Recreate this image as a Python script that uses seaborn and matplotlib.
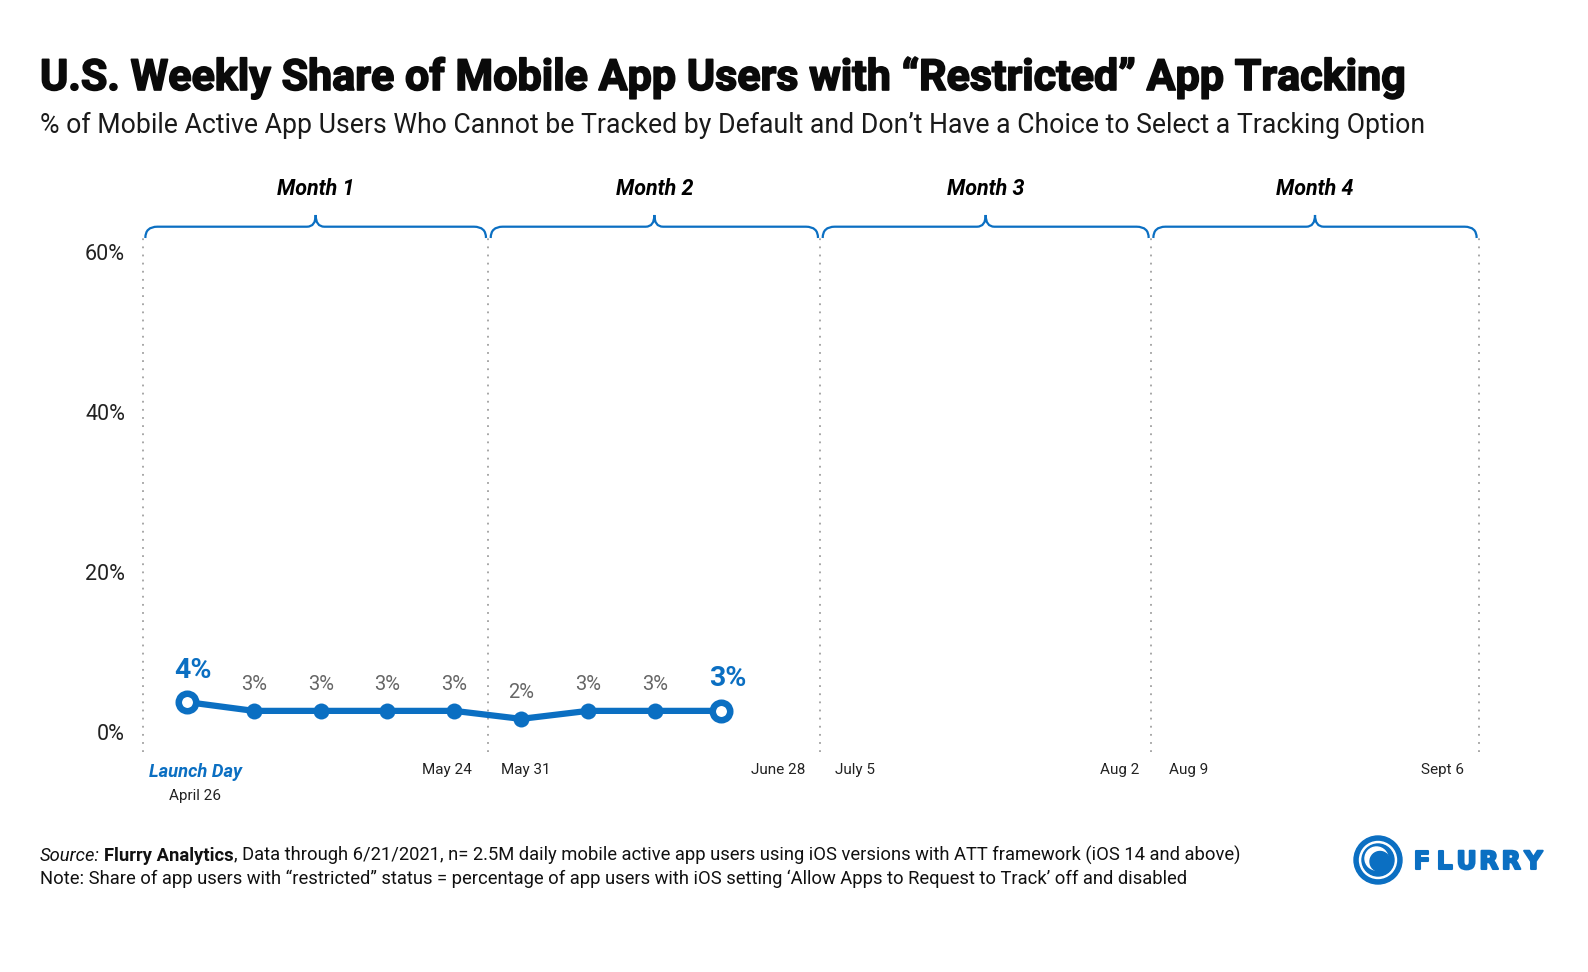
import numpy as np
import pandas as pd
import matplotlib
matplotlib.use("Agg")
import matplotlib.pyplot as plt
import matplotlib.transforms as mtransforms
import matplotlib.patheffects as pe
from matplotlib.path import Path
from matplotlib.patches import PathPatch, Circle
import seaborn as sb

# weekly share of "restricted" users, week 0 = launch day (April 26)
weeks = [0, 1, 2, 3, 4, 5, 6, 7, 8]
share = [3.7, 2.6, 2.6, 2.6, 2.6, 1.6, 2.6, 2.6, 2.6]
share_labels = ["4%", "3%", "3%", "3%", "3%", "2%", "3%", "3%", "3%"]

months = ["Month 1", "Month 2", "Month 3", "Month 4"]
month_edges = [-0.66, 4.51, 9.48, 14.43, 19.34]

# end-of-month / start-of-month dates, alternating
date_weeks = [4, 5, 9, 10, 14, 15, 19]
date_labels = ["May 24", "May 31", "June 28", "July 5", "Aug 2", "Aug 9", "Sept 6"]

y_ticks = [0, 20, 40, 60]
y_labels = ["0%", "20%", "40%", "60%"]

title = "U.S. Weekly Share of Mobile App Users with \u201cRestricted\u201d App Tracking"
subtitle = ("% of Mobile Active App Users Who Cannot be Tracked by Default and "
            "Don\u2019t Have a Choice to Select a Tracking Option")
source_parts = [
    ("Source:", "italic", "normal", 4),
    ("Flurry Analytics", "normal", "bold", 0),
    (", Data through 6/21/2021, n= 2.5M daily mobile active app users using iOS "
     "versions with ATT framework (iOS 14 and above)", "normal", "normal", 0),
]
note = ("Note: Share of app users with \u201crestricted\u201d status = percentage of app "
        "users with iOS setting \u2018Allow Apps to Request to Track\u2019 off and disabled")

BLUE = "#0b6fc2"
GREY = "#666666"
INK = "#111111"
W, H = 1588, 972

sb.set_theme(style="white")
plt.rcParams["font.family"] = ["Roboto", "DejaVu Sans"]


def fx(px):
    return px / W


def fy(py):
    return 1 - py / H


fig = plt.figure(figsize=(W / 100, H / 100), dpi=100)
fig.patch.set_facecolor("white")

ax_top, ax_bottom = 238, 752
ax_left, ax_right = 143, 1479
ax_h = ax_bottom - ax_top
ax = fig.add_axes([fx(ax_left), fy(ax_bottom), (ax_right - ax_left) / W, ax_h / H])

df = pd.DataFrame({"week": weeks, "share": share})
sb.lineplot(data=df, x="week", y="share", ax=ax, color=BLUE, lw=4.5,
            marker="o", markersize=11.5, markeredgewidth=0, zorder=3)
ends = df.iloc[[0, -1]]
ax.plot(ends["week"], ends["share"], "o", ms=12.6, mfc="white", mec=BLUE,
        mew=4.7, zorder=4)

for i, (w, v, lab) in enumerate(zip(weeks, share, share_labels)):
    if i in (0, len(weeks) - 1):
        ax.annotate(lab, (w, v), xytext=(6, 32), textcoords="offset pixels",
                    ha="center", va="center", color=BLUE, fontsize=20.5,
                    fontweight="bold")
    else:
        ax.annotate(lab, (w, v), xytext=(0, 26), textcoords="offset pixels",
                    ha="center", va="center", color=GREY, fontsize=14.5)

ax.set_xlim(month_edges[0], month_edges[-1])
ax.set_ylim(-2.54, 61.71)
for e in month_edges:
    ax.axvline(e, color="#a0a0a0", lw=1.3, ls=(0, (1, 3.5)), clip_on=False, zorder=1)
sb.despine(ax=ax, left=True, bottom=True, top=True, right=True)
ax.grid(False)
ax.set_xlabel("")
ax.set_ylabel("")

ax.set_yticks(y_ticks, y_labels)
ax.tick_params(axis="y", length=0, pad=13, labelsize=15.5, labelcolor="#222222")
ax.set_xticks(date_weeks, date_labels)
ax.tick_params(axis="x", length=0, pad=8, labelsize=11, labelcolor="#222222")
for i, lab in enumerate(ax.get_xticklabels()):
    if i % 2 == 0:   # last week of a month: sits left of the boundary
        lab.set_ha("right")
        dx = 17.5 if i < len(date_labels) - 1 else 8
    else:            # first week of a month: sits right of the boundary
        lab.set_ha("left")
        dx = -20
    lab.set_transform(lab.get_transform()
                      + mtransforms.ScaledTranslation(dx / 100, 0, fig.dpi_scale_trans))

# month braces above the plot
trans = mtransforms.blended_transform_factory(ax.transData, ax.transAxes)
y_end = 1.0
y_h = 1 + 11.3 / ax_h
y_tip = 1 + 23 / ax_h
r, t, gap = 0.18, 0.13, 0.035
for i, name in enumerate(months):
    x0 = month_edges[i] + gap
    x1 = month_edges[i + 1] - gap
    xm = (x0 + x1) / 2
    verts = [(x0, y_end), (x0, y_h), (x0 + r, y_h),
             (xm - t, y_h),
             (xm, y_h), (xm, y_tip),
             (xm, y_h), (xm + t, y_h),
             (x1 - r, y_h),
             (x1, y_h), (x1, y_end)]
    codes = [Path.MOVETO, Path.CURVE3, Path.CURVE3,
             Path.LINETO,
             Path.CURVE3, Path.CURVE3,
             Path.CURVE3, Path.CURVE3,
             Path.LINETO,
             Path.CURVE3, Path.CURVE3]
    ax.add_patch(PathPatch(Path(verts, codes), transform=trans, fill=False,
                           ec=BLUE, lw=1.6, clip_on=False))
    ax.text(xm, 1 + (ax_top - 194.5) / ax_h, name, transform=trans, ha="center",
            va="baseline", fontsize=15.5, fontweight="bold", fontstyle="italic",
            color="black")

ax.annotate("Launch Day", xy=(weeks[0], 0), xycoords=trans, xytext=(8, -20),
            textcoords="offset pixels", ha="center", va="center", color=BLUE,
            fontsize=13.2, fontweight="bold", fontstyle="italic")
ax.annotate("April 26", xy=(weeks[0], 0), xycoords=trans, xytext=(8, -44),
            textcoords="offset pixels", ha="center", va="center",
            color="#222222", fontsize=11)

# titles
fig.text(fx(40), fy(90), title, fontsize=31, fontweight="bold", va="baseline",
         color="#0a0a0a",
         path_effects=[pe.withStroke(linewidth=1.2, foreground="#0a0a0a")])
fig.text(fx(40), fy(133), subtitle, fontsize=19.2, fontweight="normal",
         va="baseline", color="#1a1a1a")

# footer
renderer = fig.canvas.get_renderer()
x = 40
for text, style, weight, pad in source_parts:
    tt = fig.text(fx(x), fy(861), text, fontsize=13.2, fontstyle=style,
                  fontweight=weight, va="baseline", color=INK)
    x = tt.get_window_extent(renderer).x1 + pad
fig.text(fx(40), fy(884), note, fontsize=13.2, va="baseline", color=INK)

# logo
lax = fig.add_axes([0, 0, 1, 1])
lax.set_xlim(0, W)
lax.set_ylim(H, 0)
lax.axis("off")
cx, cy = 1378, 860
lax.add_patch(Circle((cx, cy), 24, color=BLUE))
lax.add_patch(Circle((cx, cy), 18.5, color="white"))
lax.add_patch(Circle((cx, cy), 16, color=BLUE))
lax.add_patch(Circle((cx - 1.5, cy - 1.5), 11.5, color="white"))
lax.add_patch(Circle((cx + 2, cy + 1.5), 10, color=BLUE))
for i, ch in enumerate("FLURRY"):
    lax.text(1411 + 11 + 22.3 * i, 869, ch, ha="center", va="baseline",
             fontsize=18, fontweight="bold", color=BLUE, family="DejaVu Sans",
             path_effects=[pe.withStroke(linewidth=1.5, foreground=BLUE)])

fig.savefig("out.png", dpi=100, facecolor="white")
